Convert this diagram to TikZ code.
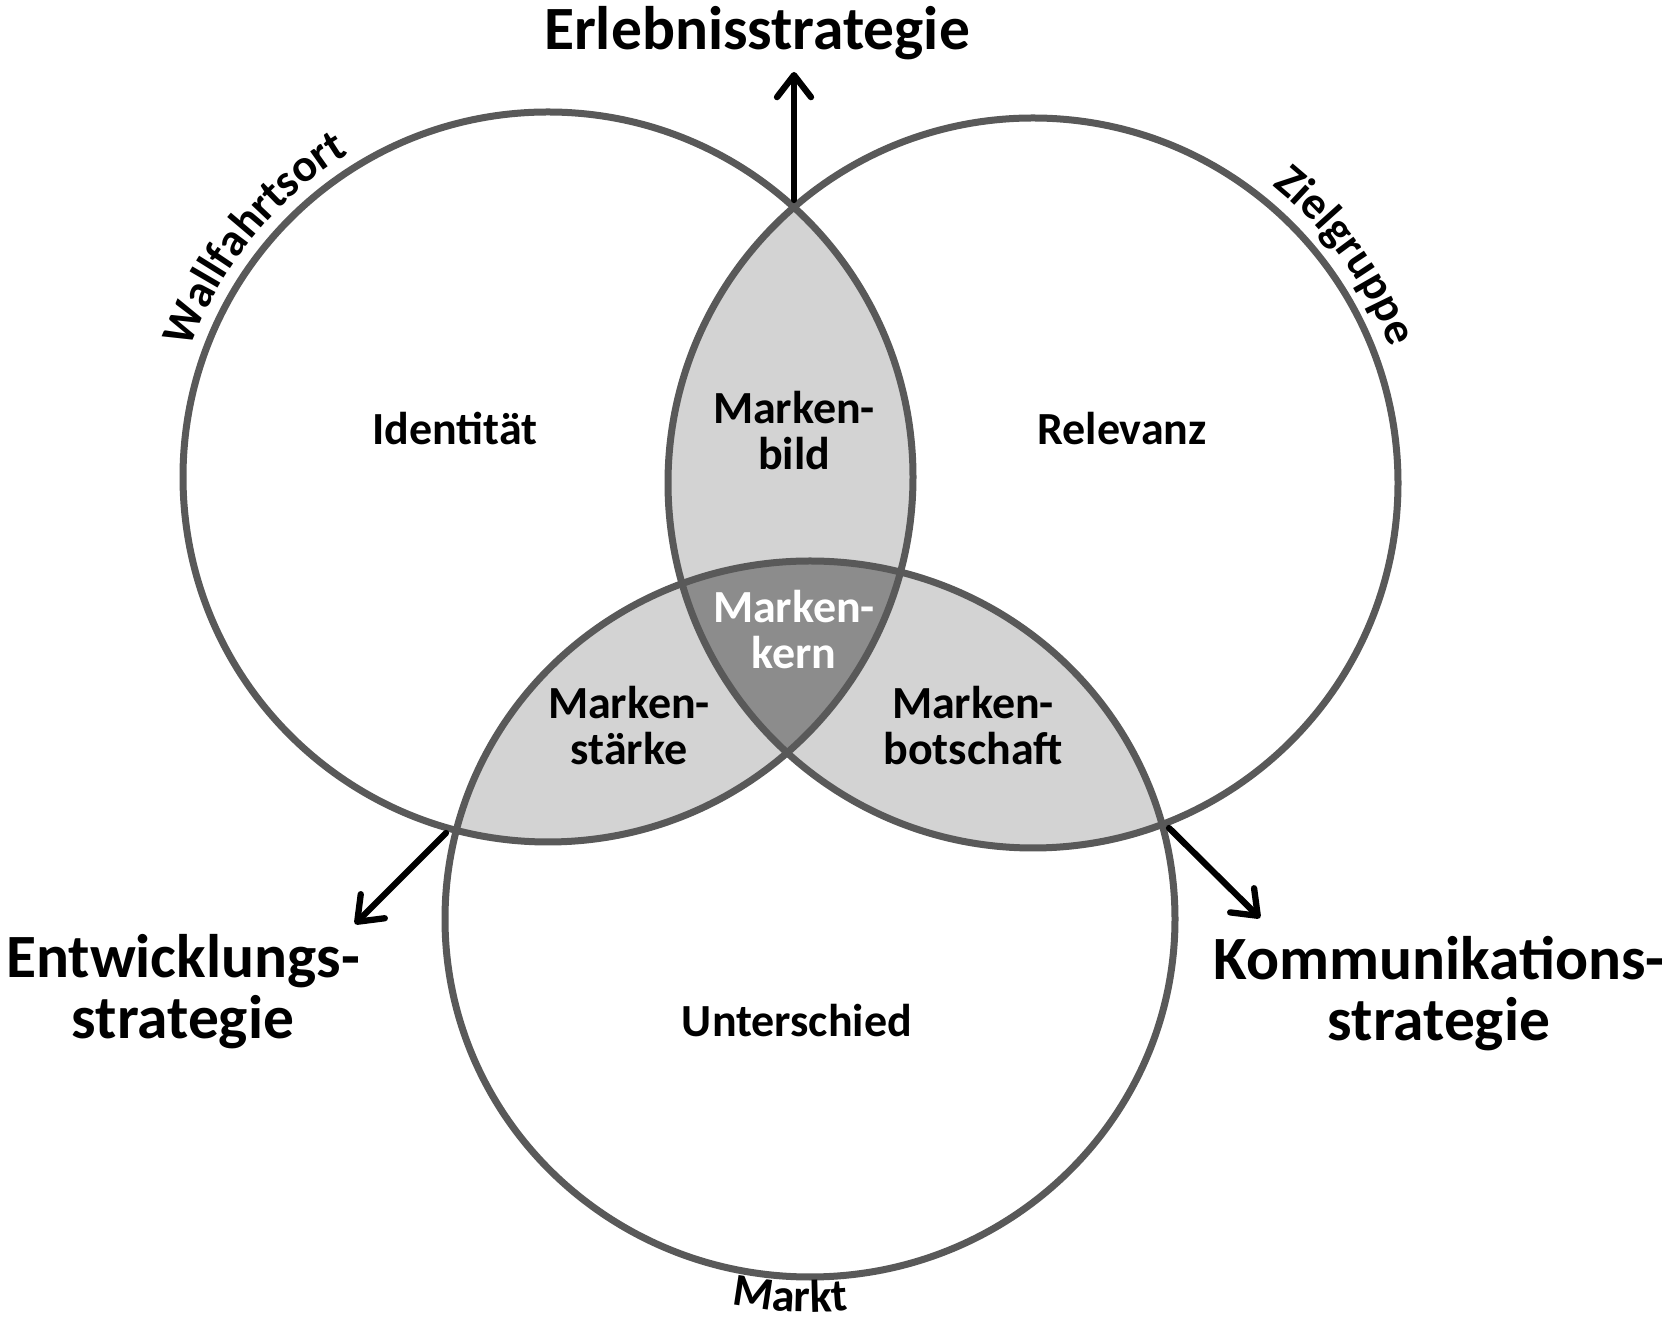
\documentclass[tikz,border=0pt]{standalone}
\usepackage{fontspec}
\setmainfont{Carlito}
\usetikzlibrary{arrows.meta,decorations.text}
\definecolor{ringgray}{RGB}{89,89,89}
\definecolor{lensgray}{RGB}{211,211,211}
\definecolor{coregray}{RGB}{140,140,140}

\begin{document}
\begin{tikzpicture}[x=1pt,y=1pt,
  ring/.style={draw=ringgray, line width=7pt},
  label/.style={font=\bfseries\fontsize{46}{46}\selectfont, align=center, text=black},
  strat/.style={font=\bfseries\fontsize{61.5}{61}\selectfont, align=center},
  pointer/.style={line width=6.3pt, line cap=round, -{Straight Barb[round,length=22pt,width=34pt]}},
  arclabel/.style={decorate, decoration={text along path, text align=center,
      text={|\bfseries\fontsize{46}{46}\selectfont|#1}}}
]
\fill[white] (0,0) rectangle (1671,1323);
\useasboundingbox (0,0) rectangle (1671,1323);

% circle centres
\coordinate (L) at (548,846);
\coordinate (R) at (1033,840);
\coordinate (B) at (810,404);
\def\ringr{365pt}
\def\bottomring{(B) ellipse[x radius=365pt, y radius=358pt]}

% overlap fills
\begin{scope}
  \clip (L) circle[radius=\ringr];
  \fill[lensgray] (R) circle[radius=\ringr];
  \fill[lensgray] \bottomring;
\end{scope}
\begin{scope}
  \clip (R) circle[radius=\ringr];
  \fill[lensgray] \bottomring;
\end{scope}
\begin{scope}
  \clip (L) circle[radius=\ringr];
  \clip (R) circle[radius=\ringr];
  \fill[coregray] \bottomring;
\end{scope}

% outlines
\draw[ring] (L) circle[radius=\ringr];
\draw[ring] (R) circle[radius=\ringr];
\draw[ring] \bottomring;

% curved circle names
\path[arclabel=Wallfahrtsort] (L) ++(176:380) arc[start angle=176, end angle=106, radius=380];
\path[arclabel=Zielgruppe] (R) ++(71:382) arc[start angle=71, end angle=1, radius=382];
\path[arclabel=Markt] (B) ++(242:393) arc[start angle=242, end angle=292, radius=393];

% region labels
\node[label] (ident) at (455,894) {Identität};
\node[label] (relev) at (1122,894) {Relevanz};
\node[label] (bild) at (794,892) {Marken-\\bild};
\node[label, text=white] (kern) at (794,693) {Marken-\\kern};
\node[label] (staerke) at (629,597) {Marken-\\stärke};
\node[label] (botsch) at (973,597) {Marken-\\botschaft};
\node[label] (unter) at (797,302) {Unterschied};

% strategies
\node[strat, anchor=base] (erl) at (757,1273) {Erlebnisstrategie};
\node[strat] (ent) at (183,331) {Entwicklungs-\\strategie};
\node[strat] (kom) at (1439,329) {Kommunikations-\\strategie};

% arrows
\coordinate (upS) at (794,1123);
\coordinate (upE) at (794,1251);
\coordinate (lfS) at (446,490);
\coordinate (lfE) at (355,399);
\coordinate (rtS) at (1169,495);
\coordinate (rtE) at (1260,405);
\draw[pointer] (upS) -- (upE);
\draw[pointer] (lfS) -- (lfE);
\draw[pointer] (rtS) -- (rtE);
\end{tikzpicture}
\end{document}
